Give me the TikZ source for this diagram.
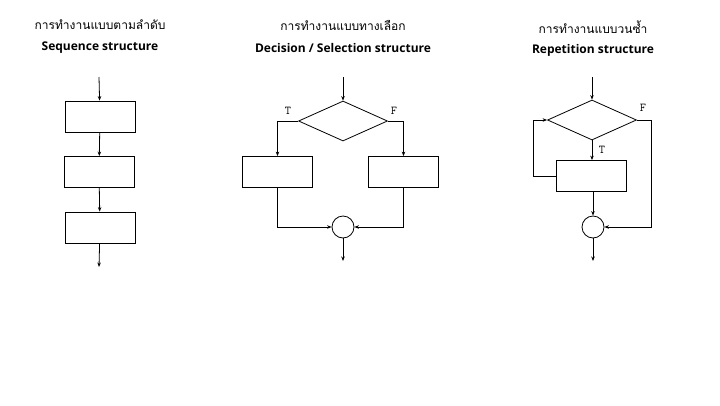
\documentclass[tikz,border=0pt]{standalone}
\usepackage{fontspec}
\setmainfont{Open Sans}
\newfontfamily\thaifont[Script=Thai]{Loma}
\usetikzlibrary{arrows.meta}
\usetikzlibrary{shapes.geometric}
\usetikzlibrary{positioning}

\begin{document}
\begin{tikzpicture}[x=1pt, y=-1pt, line width=0.8pt,
                    >={Stealth[length=4.5pt, width=3.5pt]}]
	\useasboundingbox (0,0) rectangle (720,405);

	% titles
	\begin{scope}[every node/.style={inner sep=0pt}]
		\node[font=\thaifont\fontsize{12}{14}\selectfont] (seqth) at (100,25) {การทำงานแบบตามลำดับ};
		\node[font=\bfseries\fontsize{12}{14}\selectfont] (seqen) at (100,48) {Sequence structure};
		\node[font=\thaifont\fontsize{12}{14}\selectfont] (decth) at (343,25) {การทำงานแบบทางเลือก};
		\node[font=\bfseries\fontsize{12}{14}\selectfont] (decen) at (343,48) {Decision / Selection structure};
		\node[font=\thaifont\fontsize{12}{14}\selectfont] (repth) at (593,27) {การทำงานแบบวนซ้ำ};
		\node[font=\bfseries\fontsize{12}{14}\selectfont] (repen) at (593,50) {Repetition structure};
	\end{scope}

	% shapes
	\begin{scope}[every node/.style={draw, rectangle, inner sep=0pt,
	                                 minimum width=70pt, minimum height=31pt}]
		\node (s1) at (100,116.5) {};
		\node (s2) at (99,172) {};
		\node (s3) at (100,227.5) {};
		\node (dl) at (277.5,172) {};
		\node (dr) at (403.5,172) {};
		\node (r1) at (591.5,176) {};
	\end{scope}
	\begin{scope}[every node/.style={draw, diamond, inner sep=0pt,
	                                 minimum width=89pt, minimum height=40pt}]
		\node (dd) at (343,121) {};
		\node (rd) at (592,120) {};
	\end{scope}
	\begin{scope}[every node/.style={draw, circle, inner sep=0pt, minimum size=22pt}]
		\node (dc) at (343,227) {};
		\node (rc) at (593,227) {};
	\end{scope}

	% loose ends
	\coordinate (sin) at (99,77);
	\coordinate (sout) at (99,267);
	\coordinate (din) at (343,77);
	\coordinate (dout) at (343,261);
	\coordinate (rin) at (592,77);
	\coordinate (rout) at (593,261);
	\coordinate (rback) at (533,176);
	\coordinate (rf) at (651,120);

	% sequence
	\draw[->] (sin) -- (s1);
	\draw[->] (s1) -- (s2);
	\draw[->] (s2) -- (s3);
	\draw[->] (s3) -- (sout);

	% decision
	\draw[->] (din) -- (dd);
	\draw[->] (dd.west) -| (dl.north);
	\draw[->] (dd.east) -| (dr.north);
	\draw[->] (dl.south) |- (dc.west);
	\draw[->] (dr.south) |- (dc.east);
	\draw[->] (dc) -- (dout);
	\node[font=\ttfamily\fontsize{12}{14}\selectfont] (dt) at (288,111) {T};
	\node[font=\ttfamily\fontsize{12}{14}\selectfont] (df) at (394,111) {F};

	% repetition
	\draw[->] (rin) -- (rd);
	\draw[->] (rd.south) -- (r1.north -| rd.south);
	\draw[->] (r1.west |- rback) -- (rback) |- (rd.west);
	\draw[->] (rd.east) -- (rf) |- (rc.east);
	\draw[->] (r1.south -| rc.north) -- (rc);
	\draw[->] (rc) -- (rout);
	\node[font=\ttfamily\fontsize{12}{14}\selectfont] (rt) at (602,150) {T};
	\node[font=\ttfamily\fontsize{12}{14}\selectfont] (rff) at (643,108) {F};
\end{tikzpicture}
\end{document}
